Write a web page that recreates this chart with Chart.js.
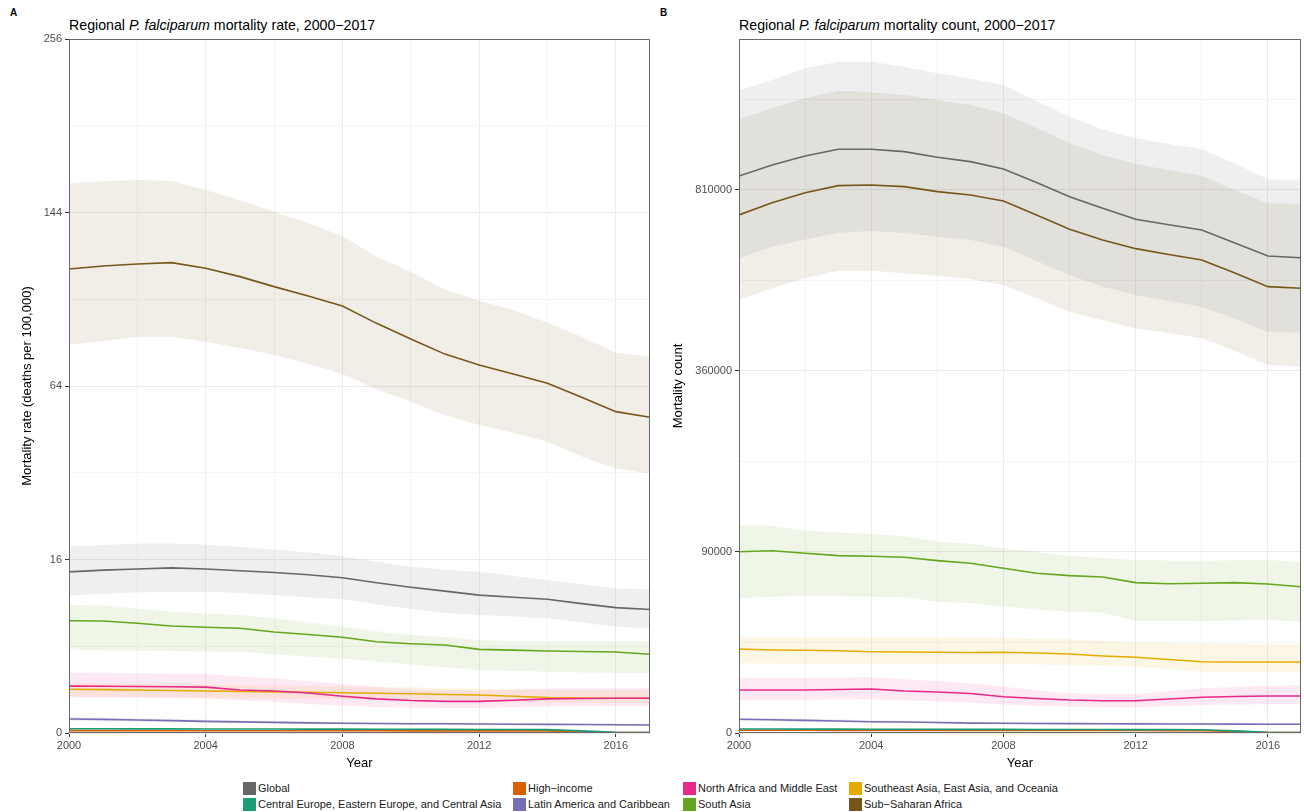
<!DOCTYPE html>
<html>
<head>
<meta charset="utf-8">
<script src="https://cdn.jsdelivr.net/npm/chart.js@4.4.1/dist/chart.umd.min.js"></script>
<style>
  html, body { margin: 0; padding: 0; background: #ffffff; }
  body { width: 1304px; height: 812px; position: relative; overflow: hidden;
         font-family: 'Liberation Sans', Arial, Helvetica, sans-serif; color: #000; }
  .tag { position: absolute; font-size: 10px; font-weight: bold; line-height: 10px; }
  .title { position: absolute; font-size: 14.2px; line-height: 14px; white-space: nowrap; }
  .wrap { position: absolute; top: 0; }
  .sw { position: absolute; width: 13px; height: 13px; }
  .lg { position: absolute; font-size: 11px; line-height: 13px; white-space: nowrap; color: #1a1a1a; }
</style>
</head>
<body>
<div class="tag" style="left:10px; top:8px;">A</div>
<div class="tag" style="left:660px; top:8px;">B</div>
<div class="title" style="left:69px; top:17.5px;">Regional <i>P. falciparum</i> mortality rate, 2000&#8722;2017</div>
<div class="title" style="left:739px; top:17.5px;">Regional <i>P. falciparum</i> mortality count, 2000&#8722;2017</div>
<div class="wrap" style="left:0px;"><canvas id="rateChart" width="655" height="775"></canvas></div>
<div class="wrap" style="left:655px;"><canvas id="countChart" width="649" height="775"></canvas></div>
<div id="legend"></div>

<script>
// ---- Axis breaks ----
const years = [2000, 2001, 2002, 2003, 2004, 2005, 2006, 2007, 2008, 2009, 2010, 2011, 2012, 2013, 2014, 2015, 2016, 2017];
const yearTicks = [2000, 2004, 2008, 2012, 2016];
const yearMinorTicks = [2002, 2006, 2010, 2014];
const rateTicks = [0, 16, 64, 144, 256];
const rateMinorTicks = [4, 36, 100, 196];
const countTicks = [0, 90000, 360000, 810000];
const countMinorTicks = [22500, 202500, 562500, 1102500];

// ---- Regions ----
const regions = ['Global', 'Central Europe, Eastern Europe, and Central Asia', 'High\u2212income',
  'Latin America and Caribbean', 'North Africa and Middle East', 'South Asia',
  'Southeast Asia, East Asia, and Oceania', 'Sub\u2212Saharan Africa'];
const regionColors = ['#666666', '#1B9E77', '#D95F02', '#7570B3', '#E7298A', '#66A61E', '#E6AB02', '#775619'];

// ---- Mortality rate (deaths per 100,000): estimate, lower and upper bounds ----
const rateGlobal   = [13.8, 14.1, 14.3, 14.5, 14.3, 14.0, 13.7, 13.3, 12.8, 12.0, 11.3, 10.7, 10.1, 9.8, 9.5, 8.9, 8.35, 8.1];
const rateGlobalLo = [10.0, 10.3, 10.5, 10.6, 10.6, 10.4, 10.1, 9.8, 9.5, 8.8, 8.2, 7.7, 7.4, 7.2, 7.0, 6.5, 6.0, 5.8];
const rateGlobalHi = [18.5, 18.8, 19.1, 19.1, 18.9, 18.4, 17.9, 17.3, 16.6, 15.6, 14.7, 14.2, 13.8, 13.1, 12.4, 11.8, 11.1, 11.0];

const rateCE   = [0.0098, 0.0095, 0.0092, 0.0090, 0.0087, 0.0085, 0.0082, 0.0080, 0.0078, 0.0075, 0.0072, 0.0070, 0.0067, 0.0064, 0.0060, 0.0025, 0.0002, 0.0001];
const rateCELo = [0.0070, 0.0068, 0.0066, 0.0064, 0.0062, 0.0061, 0.0059, 0.0057, 0.0056, 0.0054, 0.0051, 0.0050, 0.0048, 0.0046, 0.0043, 0.0018, 0.0001, 0.0000];
const rateCEHi = [0.0135, 0.0131, 0.0127, 0.0124, 0.0120, 0.0117, 0.0113, 0.0110, 0.0107, 0.0103, 0.0099, 0.0096, 0.0092, 0.0088, 0.0083, 0.0035, 0.0003, 0.0002];

const rateHI   = [0.0030, 0.0030, 0.0029, 0.0029, 0.0028, 0.0028, 0.0027, 0.0027, 0.0026, 0.0026, 0.0025, 0.0025, 0.0024, 0.0024, 0.0023, 0.0010, 0.0001, 0.0001];
const rateHILo = [0.0021, 0.0021, 0.0020, 0.0020, 0.0020, 0.0020, 0.0019, 0.0019, 0.0018, 0.0018, 0.0018, 0.0018, 0.0017, 0.0017, 0.0016, 0.0007, 0.0001, 0.0000];
const rateHIHi = [0.0042, 0.0042, 0.0041, 0.0041, 0.0039, 0.0039, 0.0038, 0.0038, 0.0036, 0.0036, 0.0035, 0.0035, 0.0034, 0.0034, 0.0032, 0.0014, 0.0002, 0.0001];

const rateLA   = [0.104, 0.098, 0.090, 0.082, 0.072, 0.066, 0.060, 0.055, 0.050, 0.048, 0.046, 0.045, 0.043, 0.041, 0.040, 0.038, 0.036, 0.034];
const rateLALo = [0.078, 0.074, 0.068, 0.062, 0.054, 0.050, 0.045, 0.041, 0.038, 0.036, 0.035, 0.034, 0.032, 0.031, 0.030, 0.029, 0.027, 0.026];
const rateLAHi = [0.135, 0.127, 0.117, 0.107, 0.094, 0.086, 0.078, 0.072, 0.065, 0.062, 0.060, 0.058, 0.056, 0.053, 0.052, 0.049, 0.047, 0.044];

const rateNAME   = [1.17, 1.16, 1.15, 1.14, 1.12, 0.98, 0.94, 0.85, 0.72, 0.62, 0.56, 0.53, 0.53, 0.57, 0.62, 0.63, 0.64, 0.64];
const rateNAMELo = [0.68, 0.67, 0.66, 0.65, 0.64, 0.56, 0.52, 0.45, 0.40, 0.36, 0.34, 0.33, 0.33, 0.35, 0.37, 0.38, 0.39, 0.39];
const rateNAMEHi = [1.93, 1.92, 1.90, 1.88, 1.85, 1.70, 1.60, 1.42, 1.28, 1.12, 1.02, 0.98, 0.96, 1.00, 1.05, 1.06, 1.07, 1.07];

const rateSA   = [6.70, 6.67, 6.40, 6.09, 5.94, 5.83, 5.42, 5.15, 4.87, 4.43, 4.24, 4.12, 3.72, 3.65, 3.57, 3.53, 3.49, 3.29];
const rateSALo = [3.70, 3.65, 3.60, 3.57, 3.54, 3.50, 3.30, 3.10, 2.95, 2.70, 2.50, 2.30, 2.10, 2.05, 2.00, 1.95, 1.92, 1.89];
const rateSAHi = [8.70, 8.65, 8.20, 7.80, 7.60, 7.40, 7.00, 6.50, 6.00, 5.50, 5.10, 4.90, 4.60, 4.50, 4.45, 4.45, 4.45, 4.45];

const rateSEA   = [1.015, 1.00, 0.98, 0.96, 0.94, 0.92, 0.90, 0.88, 0.86, 0.84, 0.82, 0.79, 0.77, 0.72, 0.67, 0.65, 0.64, 0.64];
const rateSEALo = [0.71, 0.70, 0.69, 0.67, 0.66, 0.64, 0.63, 0.62, 0.61, 0.60, 0.59, 0.57, 0.55, 0.52, 0.49, 0.48, 0.48, 0.48];
const rateSEAHi = [1.33, 1.31, 1.29, 1.27, 1.24, 1.22, 1.19, 1.17, 1.15, 1.13, 1.11, 1.08, 1.05, 1.02, 1.00, 0.99, 0.98, 0.98];

const rateSSA   = [114.4, 115.9, 116.9, 117.6, 114.8, 110.7, 105.9, 101.5, 96.9, 89.2, 82.5, 76.3, 72.0, 68.5, 65.0, 59.9, 54.9, 53.0];
const rateSSALo = [80.0, 81.7, 83.5, 83.5, 81.4, 78.8, 75.9, 72.4, 68.5, 62.8, 58.3, 53.7, 50.4, 47.9, 45.1, 40.6, 37.2, 35.8];
const rateSSAHi = [160.6, 161.7, 162.5, 162.0, 156.7, 151.0, 144.4, 138.2, 131.3, 120.6, 113.1, 104.6, 99.3, 95.1, 89.5, 83.5, 76.9, 75.3];

// ---- Mortality count: estimate, lower and upper bounds ----
const countGlobal   = [852300, 886400, 914700, 936000, 936000, 928300, 910500, 896700, 873900, 832500, 790200, 756400, 725000, 709800, 695100, 659600, 625100, 620600];
const countGlobalLo = [619100, 649700, 669100, 687600, 692300, 686800, 676700, 667700, 649700, 612000, 576300, 547200, 527000, 512700, 499300, 470900, 442400, 440200];
const countGlobalHi = [1135900, 1171400, 1213800, 1238100, 1238100, 1219700, 1195700, 1176800, 1153600, 1097300, 1043500, 1001200, 971600, 953100, 936000, 891700, 842300, 838000];

const countCE   = [44, 43, 42, 41, 40, 39, 38, 37, 36, 35, 34, 33, 32, 31, 30, 12, 1, 0.5];
const countCELo = [31, 30, 29, 29, 28, 27, 27, 26, 25, 24, 24, 23, 22, 22, 21, 8, 0.5, 0.2];
const countCEHi = [60, 59, 57, 56, 55, 53, 52, 51, 49, 48, 47, 45, 44, 42, 41, 17, 2, 1];

const countHI   = [20, 20, 20, 19.5, 19, 19, 18.5, 18, 18, 17.5, 17, 17, 16.5, 16, 16, 7, 0.5, 0.3];
const countHILo = [14, 14, 14, 14, 13, 13, 13, 13, 13, 12, 12, 12, 12, 11, 11, 5, 0.3, 0.2];
const countHIHi = [27, 27, 27, 26, 26, 26, 25, 24, 24, 24, 23, 23, 22, 22, 22, 10, 1, 0.5];

const countLA   = [516, 480, 440, 400, 350, 330, 300, 270, 258, 250, 240, 235, 230, 225, 220, 215, 210, 208];
const countLALo = [400, 372, 340, 310, 272, 255, 232, 210, 200, 193, 186, 182, 178, 174, 170, 166, 162, 160];
const countLAHi = [660, 615, 565, 515, 450, 425, 390, 350, 335, 325, 312, 305, 300, 292, 286, 280, 273, 270];

const countNAME   = [5080, 5080, 5080, 5200, 5320, 4850, 4620, 4290, 3620, 3270, 2990, 2870, 2870, 3180, 3500, 3660, 3760, 3760];
const countNAMELo = [2990, 3020, 3050, 3080, 3120, 2900, 2750, 2530, 2250, 2050, 1900, 1850, 1810, 1980, 2150, 2230, 2280, 2310];
const countNAMEHi = [8220, 8300, 8400, 8450, 8520, 7900, 7400, 6800, 5900, 5000, 4330, 4250, 4180, 4800, 5490, 5800, 6100, 6330];

const countSA   = [90300, 91300, 88700, 86400, 85800, 84800, 81600, 79100, 74500, 70100, 68000, 66900, 62100, 61200, 61600, 62100, 61000, 58800];
const countSALo = [49850, 51030, 51570, 51400, 51030, 50590, 47360, 46430, 43820, 41900, 40420, 39760, 34650, 34550, 34460, 34780, 35080, 34030];
const countSAHi = [118900, 117700, 112400, 110400, 108800, 106600, 100500, 98700, 93700, 90000, 86100, 84100, 82200, 81700, 81600, 82000, 82200, 80600];

const countSEA   = [19380, 18930, 18800, 18610, 18160, 18030, 17890, 17800, 17890, 17580, 17150, 16290, 15740, 14840, 13970, 13850, 13850, 13850];
const countSEALo = [13350, 13300, 13250, 13200, 13150, 13100, 13100, 13080, 13000, 12850, 12700, 12400, 12080, 11200, 10320, 10320, 10320, 10320];
const countSEAHi = [25160, 25160, 25160, 25160, 25160, 25160, 25160, 25160, 24900, 24500, 24120, 23200, 22400, 22250, 22100, 21900, 21800, 21760];

const countSSA   = [737200, 772600, 802000, 823000, 825000, 819900, 805000, 795200, 777500, 737200, 697000, 667700, 644400, 629000, 614700, 581300, 547200, 543300];
const countSSALo = [515100, 543300, 568000, 587200, 587200, 580500, 573800, 566300, 551400, 519900, 487600, 468600, 450000, 439600, 428000, 400900, 372100, 368600];
const countSSAHi = [1034700, 1072100, 1106700, 1133400, 1127800, 1118300, 1100800, 1083500, 1055100, 1005600, 955300, 917800, 889400, 870800, 852300, 810000, 770800, 768800];

// Series tables in the same order as `regions`
const rateSeries = [
  [rateGlobal, rateGlobalLo, rateGlobalHi], [rateCE, rateCELo, rateCEHi], [rateHI, rateHILo, rateHIHi],
  [rateLA, rateLALo, rateLAHi], [rateNAME, rateNAMELo, rateNAMEHi], [rateSA, rateSALo, rateSAHi],
  [rateSEA, rateSEALo, rateSEAHi], [rateSSA, rateSSALo, rateSSAHi]
];
const countSeries = [
  [countGlobal, countGlobalLo, countGlobalHi], [countCE, countCELo, countCEHi], [countHI, countHILo, countHIHi],
  [countLA, countLALo, countLAHi], [countNAME, countNAMELo, countNAMEHi], [countSA, countSALo, countSAHi],
  [countSEA, countSEALo, countSEAHi], [countSSA, countSSALo, countSSAHi]
];

// ---- Square-root value axis ----
class SqrtScale extends Chart.Scale {
  determineDataLimits() {
    this.min = this.options.min;
    this.max = this.options.max;
  }
  buildTicks() {
    const major = this.options.majorValues || [];
    const minor = this.options.minorValues || [];
    return major.map(v => ({ value: v, major: true }))
      .concat(minor.map(v => ({ value: v, major: false })))
      .sort((a, b) => a.value - b.value);
  }
  getLabelForValue(value) { return String(value); }
  configure() {
    super.configure();
    this._sqStart = Math.sqrt(this.min);
    this._sqSpan = Math.sqrt(this.max) - this._sqStart;
  }
  getPixelForValue(value) {
    if (value === null || value === undefined || isNaN(value)) return NaN;
    return this.getPixelForDecimal((Math.sqrt(Math.max(0, value)) - this._sqStart) / this._sqSpan);
  }
  getValueForPixel(pixel) {
    const s = this._sqStart + this.getDecimalForPixel(pixel) * this._sqSpan;
    return s * s;
  }
}
SqrtScale.id = 'sqrt';
SqrtScale.defaults = {};
Chart.register(SqrtScale);

const FONT = "'Liberation Sans', Arial, Helvetica, sans-serif";
const GRID_MAJOR = '#ebebeb';
const GRID_MINOR = '#f4f4f4';

function hexToRgba(hex, a) {
  const n = parseInt(hex.slice(1), 16);
  return `rgba(${(n >> 16) & 255}, ${(n >> 8) & 255}, ${n & 255}, ${a})`;
}

// Frame around the plotting area
const panelBorder = {
  id: 'panelBorder',
  afterDraw(chart) {
    const { ctx, chartArea: a } = chart;
    ctx.save();
    ctx.strokeStyle = '#6a6a6a';
    ctx.lineWidth = 1;
    ctx.strokeRect(Math.round(a.left) + 0.5, Math.round(a.top) + 0.5,
                   Math.round(a.right - a.left) - 1, Math.round(a.bottom - a.top) - 1);
    ctx.restore();
  }
};

function buildDatasets(series) {
  const bands = [];
  const lines = [];
  series.forEach((s, i) => {
    const col = regionColors[i];
    const pts = arr => years.map((yr, k) => ({ x: yr, y: arr[k] }));
    bands.push({ data: pts(s[1]), borderWidth: 0, pointRadius: 0, fill: false, order: 2, tension: 0,
                 borderColor: 'transparent' });
    bands.push({ data: pts(s[2]), borderWidth: 0, pointRadius: 0, fill: '-1', order: 2, tension: 0,
                 borderColor: 'transparent', backgroundColor: hexToRgba(col, 0.1) });
    lines.push({ data: pts(s[0]), borderColor: col, borderWidth: 1.6, pointRadius: 0, fill: false,
                 order: 1, tension: 0 });
  });
  return bands.concat(lines);
}

function makeChart(id, series, yTitle, yMax, majors, minors, yAxisWidth, yTitlePad, rightPad) {
  const majorSet = new Set(majors);
  const xMajorSet = new Set(yearTicks);
  return new Chart(document.getElementById(id), {
    type: 'line',
    data: { datasets: buildDatasets(series) },
    plugins: [panelBorder],
    options: {
      responsive: false,
      animation: false,
      events: [],
      layout: { padding: { top: 39, right: rightPad, left: 0, bottom: 0 } },
      plugins: { legend: { display: false }, tooltip: { enabled: false }, title: { display: false } },
      scales: {
        x: {
          type: 'linear', min: 2000, max: 2017,
          afterBuildTicks: s => {
            s.ticks = yearTicks.concat(yearMinorTicks).sort((a, b) => a - b).map(v => ({ value: v }));
          },
          afterFit: s => { s.height = 42; },
          ticks: {
            autoSkip: false, maxRotation: 0, padding: 2,
            color: '#4d4d4d', font: { family: FONT, size: 11 },
            callback: v => (xMajorSet.has(v) ? String(v) : '')
          },
          grid: {
            color: c => (c.tick && xMajorSet.has(c.tick.value) ? GRID_MAJOR : GRID_MINOR),
            tickColor: c => (c.tick && xMajorSet.has(c.tick.value) ? '#333333' : 'rgba(0,0,0,0)'),
            tickLength: 4, lineWidth: 1
          },
          border: { display: false },
          title: { display: true, text: 'Year', color: '#000', font: { family: FONT, size: 13 },
                   padding: { top: 0, bottom: 4 } }
        },
        y: {
          type: 'sqrt', position: 'left', min: 0, max: yMax,
          majorValues: majors, minorValues: minors,
          afterFit: s => { s.width = yAxisWidth; },
          ticks: {
            padding: 3, color: '#4d4d4d', font: { family: FONT, size: 11 },
            callback: v => (majorSet.has(v) ? String(v) : '')
          },
          grid: {
            color: c => (c.tick && majorSet.has(c.tick.value) ? GRID_MAJOR : GRID_MINOR),
            tickColor: c => (c.tick && majorSet.has(c.tick.value) ? '#333333' : 'rgba(0,0,0,0)'),
            tickLength: 4, lineWidth: 1
          },
          border: { display: false },
          title: { display: true, text: yTitle, color: '#000', font: { family: FONT, size: 13 },
                   padding: { top: yTitlePad, bottom: 0 } }
        }
      }
    }
  });
}

makeChart('rateChart', rateSeries, 'Mortality rate (deaths per 100,000)', 256, rateTicks, rateMinorTicks, 69, 20, 5);
makeChart('countChart', countSeries, 'Mortality count', 1323000, countTicks, countMinorTicks, 84, 16, 3);

// ---- Shared legend (two rows, filled column by column) ----
const legend = document.getElementById('legend');
const swatchLeft = [243, 513, 683, 849];
const rowTop = [782, 798];
regions.forEach((name, i) => {
  const col = Math.floor(i / 2), row = i % 2;
  const sw = document.createElement('div');
  sw.className = 'sw';
  sw.style.left = swatchLeft[col] + 'px';
  sw.style.top = rowTop[row] + 'px';
  sw.style.background = regionColors[i];
  legend.appendChild(sw);
  const lab = document.createElement('div');
  lab.className = 'lg';
  lab.style.left = (swatchLeft[col] + 15) + 'px';
  lab.style.top = rowTop[row] + 'px';
  lab.textContent = name;
  legend.appendChild(lab);
});
</script>
</body>
</html>
